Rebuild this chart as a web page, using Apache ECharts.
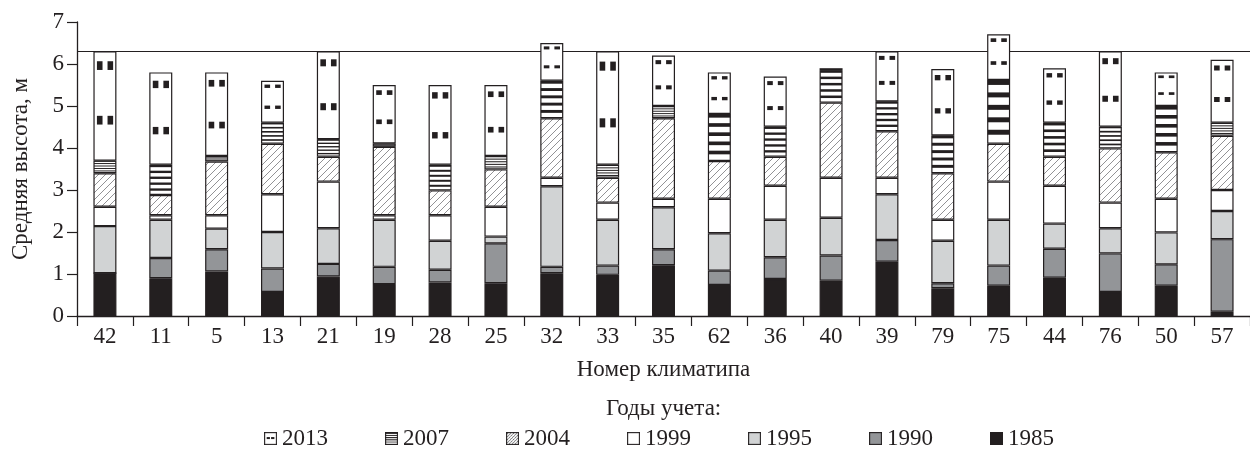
<!DOCTYPE html>
<html>
<head>
<meta charset="utf-8">
<script src="https://cdn.jsdelivr.net/npm/echarts@6/dist/echarts.min.js"></script>
<style>
html,body{margin:0;padding:0;background:#fff;}
#chart{width:1250px;height:452px;}
</style>
</head>
<body>
<div id="chart"></div>
<script>
// Climatype numbers (x categories)
const categories = ['42','11','5','13','21','19','28','25','32','33','35','62','36','40','39','79','75','44','76','50','57'];
// Height growth per survey period (m), stacked to give the mean height in each survey year
const inc1985 = [1.02,0.90,1.06,0.57,0.94,0.76,0.80,0.78,1.02,0.98,1.21,0.74,0.88,0.84,1.29,0.66,0.72,0.91,0.57,0.72,0.10];
const inc1990 = [0.00,0.48,0.53,0.56,0.30,0.41,0.30,0.95,0.15,0.22,0.38,0.34,0.52,0.60,0.52,0.12,0.48,0.69,0.92,0.51,1.73];
const inc1995 = [1.12,0.91,0.49,0.87,0.85,1.12,0.69,0.16,1.92,1.09,1.00,0.89,0.89,0.90,1.09,1.01,1.09,0.60,0.60,0.76,0.67];
const inc1999 = [0.46,0.11,0.32,0.90,1.11,0.11,0.61,0.71,0.20,0.41,0.20,0.82,0.81,0.95,0.39,0.50,0.91,0.90,0.61,0.80,0.50];
const inc2004 = [0.80,0.48,1.28,1.20,0.59,1.63,0.59,0.89,1.42,0.59,1.92,0.90,0.69,1.79,1.11,1.11,0.90,0.69,1.29,1.11,1.29];
const inc2007 = [0.30,0.72,0.13,0.50,0.42,0.08,0.61,0.32,0.89,0.31,0.29,1.12,0.72,0.77,0.71,0.90,1.52,0.81,0.52,1.10,0.31];
const inc2013 = [2.60,2.20,1.99,1.00,2.09,1.39,1.90,1.69,0.90,2.70,1.20,0.99,1.19,0.05,1.19,1.58,1.09,1.30,1.79,0.80,1.50];
const yearNames = ['2013','2007','2004','1999','1995','1990','1985'];
const referenceLevel = 6.3;
const yTicks = [0,1,2,3,4,5,6,7];

const INK = '#231f20';
const FONT = '"Liberation Serif", "Times New Roman", serif';
const BAR_W = 23;

function hatchCanvas(size) {
  const c = document.createElement('canvas');
  c.width = size; c.height = size;
  const g = c.getContext('2d');
  g.fillStyle = '#fff'; g.fillRect(0,0,size,size);
  g.strokeStyle = '#6d6e71'; g.lineWidth = 0.75;
  g.beginPath();
  for (let k = -1; k <= 1; k++) {
    g.moveTo(k*size, size); g.lineTo(k*size + size, 0);
  }
  g.stroke();
  return c;
}

function iconURL(kind) {
  const s = 39; // 3x of 13
  const c = document.createElement('canvas');
  c.width = s; c.height = s;
  const g = c.getContext('2d');
  let fill = '#fff';
  if (kind === '1985') fill = INK;
  if (kind === '1990') fill = '#939598';
  if (kind === '1995') fill = '#d1d3d4';
  g.fillStyle = fill; g.fillRect(0,0,s,s);
  if (kind === '2004') {
    g.strokeStyle = '#6d6e71'; g.lineWidth = 2;
    g.beginPath();
    for (let k = -s; k < 2*s; k += 9) { g.moveTo(k, s); g.lineTo(k + s, 0); }
    g.stroke();
  }
  if (kind === '2007') {
    g.fillStyle = INK;
    for (let k = 0; k < 6; k++) g.fillRect(0, 3 + k*6.4, s, 2.6);
  }
  if (kind === '2013') {
    g.fillStyle = INK;
    g.fillRect(8, 16, 9, 6);
    g.fillRect(22, 16, 9, 6);
  }
  g.strokeStyle = INK; g.lineWidth = 3.4;
  g.strokeRect(1.7,1.7,s-3.4,s-3.4);
  return 'image://' + c.toDataURL();
}

const hatch = {image: hatchCanvas(7), repeat: 'repeat'};

const seriesDefs = [
  {name:'1985', data: inc1985, color: INK},
  {name:'1990', data: inc1990, color: '#939598'},
  {name:'1995', data: inc1995, color: '#d1d3d4'},
  {name:'1999', data: inc1999, color: '#ffffff'},
  {name:'2004', data: inc2004, color: hatch},
  {name:'2007', data: inc2007, color: '#ffffff'},
  {name:'2013', data: inc2013, color: '#ffffff'}
];

const series = seriesDefs.map((d, idx) => ({
  name: d.name,
  type: 'bar',
  stack: 'total',
  barWidth: BAR_W,
  data: d.data,
  z: 3,
  itemStyle: {color: d.color, borderColor: INK, borderWidth: 1.2},
  emphasis: {disabled: true},
  animation: false
}));

// reference line at 6.3 m (drawn beneath the bars)
series.push({
  type: 'line',
  data: [],
  z: 1,
  markLine: {
    silent: true, symbol: 'none', z: 1,
    label: {show: false},
    lineStyle: {color: INK, width: 1.2, type: 'solid'},
    data: [{yAxis: referenceLevel}]
  },
  animation: false
});

// stripes of the 2007 segment and the dash marks of the 2013 segment
series.push({
  type: 'custom',
  z: 10,
  silent: true,
  animation: false,
  encode: {x: 0, y: 1},
  data: categories.map((c, i) => [i, 0]),
  renderItem: function (params, api) {
    const i = params.dataIndex;
    const b2007 = inc1985[i] + inc1990[i] + inc1995[i] + inc1999[i] + inc2004[i];
    const t2007 = b2007 + inc2007[i];
    const t2013 = t2007 + inc2013[i];
    const pB = api.coord([i, b2007]);
    const pT = api.coord([i, t2007]);
    const pQ = api.coord([i, t2013]);
    const cx = pB[0];
    const h = pB[1] - pT[1];
    const w = BAR_W - 1.2;
    const children = [];
    const t = Math.max(0.5, 0.078 * h);
    for (let k = 0; k < 5; k++) {
      const y = pT[1] + k * 0.195 * h;
      children.push({type: 'rect', shape: {x: cx - w/2, y: y, width: w, height: t}, style: {fill: INK}});
    }
    const h2 = pT[1] - pQ[1];
    if (h2 > 8) {
      const mh = Math.max(2.4, 0.08 * h2);
      [0.13, 0.63].forEach(f => {
        const yc = pQ[1] + f * h2;
        children.push({type: 'rect', shape: {x: cx - 8, y: yc - mh/2, width: 5.6, height: mh}, style: {fill: INK}});
        children.push({type: 'rect', shape: {x: cx + 2.6, y: yc - mh/2, width: 5.6, height: mh}, style: {fill: INK}});
      });
    }
    return {type: 'group', children: children};
  }
});

const chart = echarts.init(document.getElementById('chart'), null, {renderer: 'canvas'});
chart.setOption({
  backgroundColor: '#ffffff',
  animation: false,
  textStyle: {fontFamily: FONT, color: INK},
  title: {
    text: 'Годы учета:',
    left: 606, top: 397,
    padding: 0,
    textStyle: {fontFamily: FONT, fontSize: 23, fontWeight: 'normal', color: INK}
  },
  legend: {
    left: 264, top: 427,
    padding: 0,
    itemWidth: 13, itemHeight: 13,
    itemGap: 57,
    selectedMode: false,
    textStyle: {fontFamily: FONT, fontSize: 23, color: INK},
    data: yearNames.map(n => ({name: n, icon: iconURL(n)}))
  },
  grid: {left: 77, top: 22, width: 1178, height: 294, containLabel: false},
  xAxis: {
    type: 'category',
    data: categories,
    name: 'Номер климатипа',
    nameLocation: 'middle',
    nameGap: 42,
    nameTextStyle: {fontFamily: FONT, fontSize: 23, color: INK},
    axisLine: {lineStyle: {color: INK, width: 1.3}},
    axisTick: {show: true, interval: 0, length: 10, lineStyle: {color: INK, width: 1.2}},
    axisLabel: {interval: 0, fontFamily: FONT, fontSize: 23, color: INK, margin: 9},
    splitLine: {show: false}
  },
  yAxis: {
    type: 'value',
    min: yTicks[0], max: yTicks[yTicks.length - 1], interval: 1,
    name: 'Средняя высота, м',
    nameLocation: 'middle',
    nameGap: 45,
    nameRotate: 90,
    nameTextStyle: {fontFamily: FONT, fontSize: 23, color: INK},
    axisLine: {show: true, lineStyle: {color: INK, width: 1.3}},
    axisTick: {show: true, length: 10, lineStyle: {color: INK, width: 1.2}},
    axisLabel: {fontFamily: FONT, fontSize: 23, color: INK, margin: 13},
    splitLine: {show: false}
  },
  series: series
});
</script>
</body>
</html>
